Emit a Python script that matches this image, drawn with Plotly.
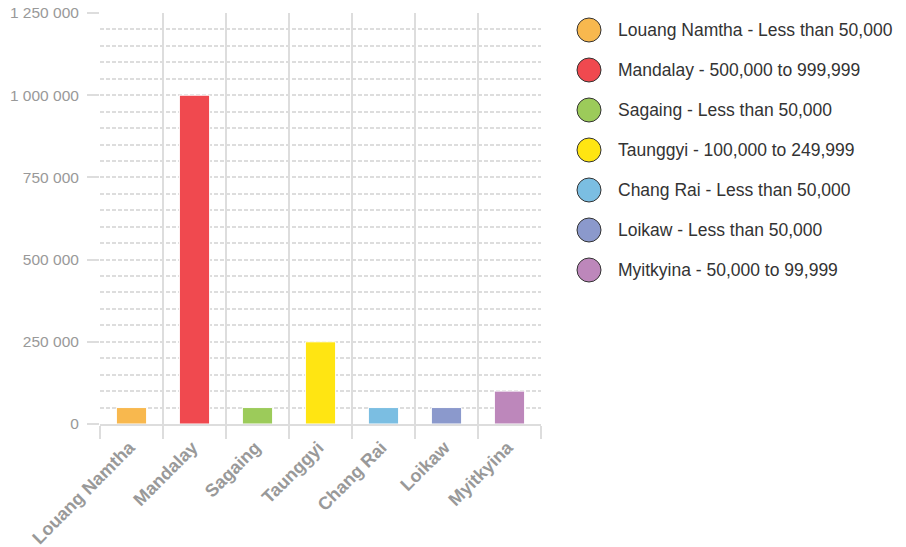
import plotly.graph_objects as go

cities = ["Louang Namtha", "Mandalay", "Sagaing", "Taunggyi", "Chang Rai", "Loikaw", "Myitkyina"]
population = [49999, 999999, 49999, 249999, 49999, 49999, 99999]
ranges = ["Less than 50,000", "500,000 to 999,999", "Less than 50,000", "100,000 to 249,999",
          "Less than 50,000", "Less than 50,000", "50,000 to 99,999"]
colors = ["#f8b84e", "#f0494f", "#9ccb5a", "#ffe512", "#7bbee2", "#8b99cc", "#bd87bb"]
y_ticks = [0, 250000, 500000, 750000, 1000000, 1250000]

FONT = "Liberation Sans, Arial, Helvetica, sans-serif"
GRID = "#dddddd"

fig = go.Figure()
fig.add_trace(go.Bar(
    x=cities, y=population,
    marker=dict(color=colors, line=dict(color="white", width=1)),
    width=0.48, showlegend=False,
))

# manual legend (circles + labels)
W, H = 906, 547
ml, mr, mt, mb = 100, 365, 13, 123
pw, ph = W - ml - mr, H - mt - mb
shapes, annots = [], []
for i, (c, r, col) in enumerate(zip(cities, ranges, colors)):
    cy = 30 + 40 * i
    ya = (H - mb - cy) / ph
    shapes.append(dict(type="circle", xref="paper", yref="paper",
                       xsizemode="pixel", ysizemode="pixel",
                       xanchor=(589 - ml) / pw, yanchor=ya,
                       x0=-12, x1=12, y0=-12, y1=12,
                       fillcolor=col, line=dict(color="#333333", width=1)))
    annots.append(dict(xref="paper", yref="paper", x=(616 - ml) / pw, y=ya,
                       xanchor="left", yanchor="middle", showarrow=False,
                       text=f"{c} - {r}", font=dict(size=17.5, color="#333333", family=FONT)))

fig.update_layout(
    width=W, height=H,
    margin=dict(l=ml, r=mr, t=mt, b=mb, pad=0),
    plot_bgcolor="white", paper_bgcolor="white",
    separators=". ",
    font=dict(family=FONT),
    shapes=shapes, annotations=annots,
    xaxis=dict(
        automargin=False,
        tickson="boundaries", showgrid=True, gridcolor=GRID, gridwidth=2,
        ticks="outside", ticklen=13, tickcolor=GRID, tickwidth=2,
        tickangle=-45, tickfont=dict(size=18, color="#999999", family=FONT, weight="bold"),
        ticklabelshift=-2, ticklabelstandoff=4,
        showline=True, linecolor=GRID, linewidth=2, mirror=False,
        zeroline=False,
    ),
    yaxis=dict(
        automargin=False,
        range=[0, 1250000], tickvals=y_ticks, tickformat=",d",
        showgrid=True, gridcolor=GRID, griddash="4px,2px", gridwidth=1.6,
        ticks="outside", ticklen=12, tickcolor=GRID, tickwidth=1.6,
        tickfont=dict(size=15.5, color="#999999", family=FONT),
        ticklabelstandoff=5,
        minor=dict(dtick=50000, showgrid=True, gridcolor=GRID, griddash="4px,2px", gridwidth=1.6, ticks=""),
        showline=False, zeroline=False,
    ),
)

fig.write_html("out.html", config={"displayModeBar": False},
               post_script="document.body.style.margin='0';")
